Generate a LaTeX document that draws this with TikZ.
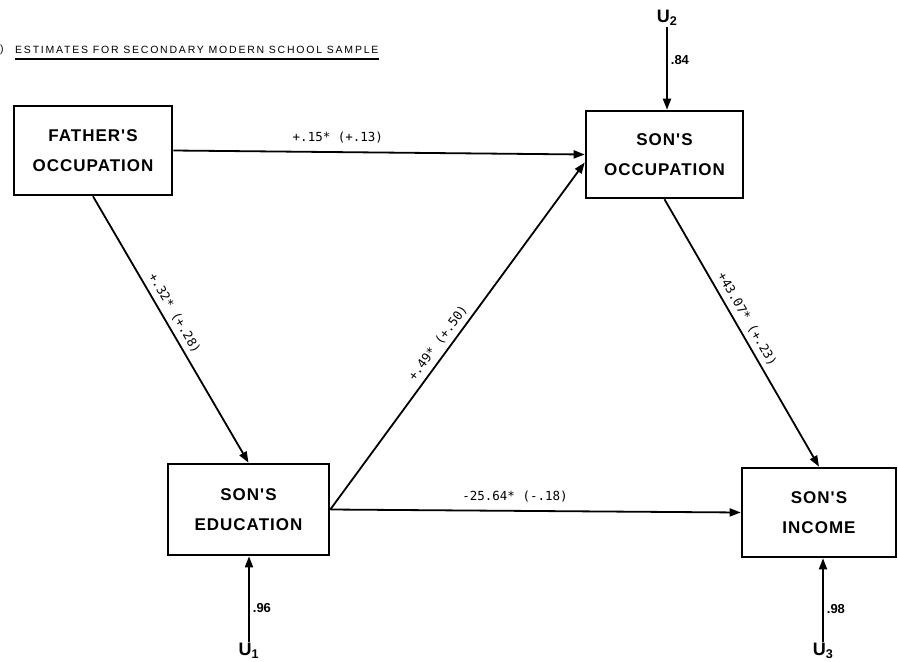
\documentclass[tikz,border=0pt]{standalone}
\usepackage{fontspec}
\setmainfont{Liberation Sans}
\newfontfamily\bxfont[LetterSpace=6]{Liberation Sans}
\newfontfamily\lbfont{DejaVu Sans Mono}
\newfontfamily\ttlfont[LetterSpace=17]{Liberation Sans}
\usetikzlibrary{arrows.meta}
\begin{document}
\begin{tikzpicture}[x=1pt,y=-1pt,
  var/.style={draw,line width=2.6pt,inner sep=0pt,align=center,
    font=\bxfont\bfseries\fontsize{17}{30}\selectfont},
  arr/.style={line width=1.8pt,-{Triangle[length=11pt,width=8pt]}},
  lab/.style={font=\lbfont\fontsize{12.5}{14}\selectfont,inner sep=2pt},
  ulab/.style={font=\bfseries\fontsize{18}{20}\selectfont,inner sep=1pt},
  elab/.style={font=\bfseries\fontsize{13}{14}\selectfont,inner sep=3pt}]
\useasboundingbox (0,0) rectangle (898,662);
% title
\node[anchor=west,font=\ttlfont\fontsize{10.5}{12}\selectfont,inner sep=0pt] (ttl) at (15,50) {ESTIMATES FOR SECONDARY MODERN SCHOOL SAMPLE};
\node[anchor=west,font=\fontsize{10.5}{12}\selectfont,inner sep=0pt] (par) at (0,50) {)};
\draw[line width=2pt] (ttl.south west) ++(0,5) coordinate (ul1) -- (ul1 -| ttl.south east);
% boxes
\node[var,minimum width=158pt,minimum height=89pt] (fo) at (93,150.5) {FATHER'S\\OCCUPATION};
\node[var,minimum width=157pt,minimum height=87pt] (so) at (664.5,154.5) {SON'S\\OCCUPATION};
\node[var,minimum width=161pt,minimum height=91pt] (se) at (248.5,509.5) {SON'S\\EDUCATION};
\node[var,minimum width=154pt,minimum height=89pt] (si) at (819,512.5) {SON'S\\INCOME};
% error terms
\node[ulab] (u1) at (249,651) {U$_{\mathbf 1}$};
\node[ulab] (u2) at (667,18) {U$_{\mathbf 2}$};
\node[ulab] (u3) at (823,651) {U$_{\mathbf 3}$};
% paths
\draw[arr] (fo.east) -- node[lab,above,pos=0.4,yshift=6pt]{+.15* (+.13)} (so.west);
\draw[arr] (fo.south) -- node[lab,sloped,above,pos=0.46,yshift=3pt]{+.32* (+.28)} (se.north);
\draw[arr] (se.east) -- node[lab,sloped,above,pos=0.46,yshift=3pt]{+.49* (+.50)} ([yshift=-8pt]so.west);
\draw[arr] (se.east) -- node[lab,above,pos=0.45,yshift=6pt]{-25.64* (-.18)} (si.west);
\draw[arr] (so.south) -- node[lab,sloped,above,pos=0.47,yshift=3pt]{+43.07* (+.23)} (si.north);
\draw[arr] (u1.north) -- node[elab,right,pos=0.4]{.96} (u1.north |- se.south);
\draw[arr] (u2.south) -- node[elab,right,pos=0.4]{.84} (u2.south |- so.north);
\draw[arr] (u3.north) -- node[elab,right,pos=0.4]{.98} (u3.north |- si.south);
\end{tikzpicture}
\end{document}
